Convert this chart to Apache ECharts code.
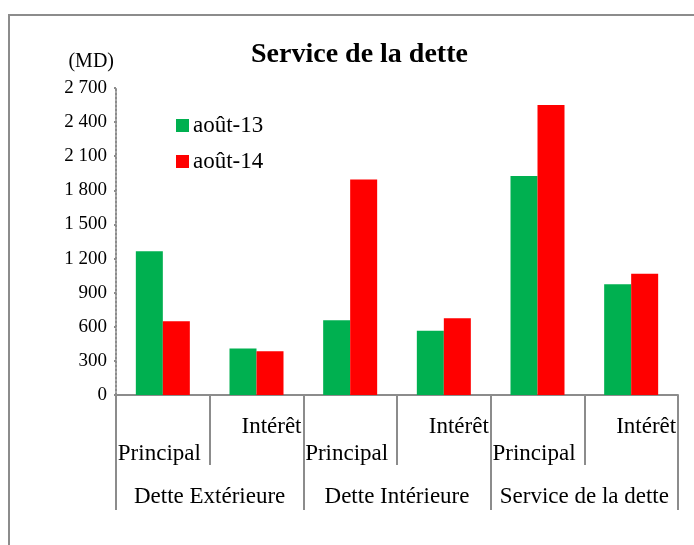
<!DOCTYPE html>
<html>
<head>
<meta charset="utf-8">
<script src="https://cdn.jsdelivr.net/npm/echarts@6/dist/echarts.min.js"></script>
<style>
  html, body { margin: 0; padding: 0; background: #fff; }
  #main { width: 694px; height: 545px; }
</style>
</head>
<body>
<div id="main"></div>
<script>
// service de la dette, en MD
var subLabels = ['Principal', 'Intérêt', 'Principal', 'Intérêt', 'Principal', 'Intérêt'];
var groupLabels = ['Dette Extérieure', 'Dette Intérieure', 'Service de la dette'];
var aout13 = [1265, 408, 658, 564, 1926, 975];
var aout14 = [649, 385, 1896, 675, 2551, 1066];
var yTicks = { min: 0, max: 2700, step: 300 };

var font = 'Liberation Serif';
var grey = '#8c8c8c';

var chart = echarts.init(document.getElementById('main'));

var option = {
  animation: false,
  textStyle: { fontFamily: font, color: '#000' },
  title: {
    text: 'Service de la dette',
    left: 246,
    top: 36,
    textStyle: { fontFamily: font, fontWeight: 'bold', fontSize: 28, color: '#000' }
  },
  legend: {
    orient: 'vertical',
    left: 171,
    top: 108,
    itemWidth: 13,
    itemHeight: 13,
    itemGap: 11,
    icon: 'rect',
    textStyle: { fontFamily: font, fontSize: 23, lineHeight: 25, color: '#000', padding: [0, 0, 0, -1] },
    data: ['août-13', 'août-14']
  },
  grid: { left: 116, right: 16, top: 88, bottom: 150 },
  xAxis: [
    {
      type: 'category',
      data: subLabels,
      axisLine: { lineStyle: { color: grey, width: 2 } },
      axisTick: { show: true, length: 70, lineStyle: { color: grey, width: 2 } },
      axisLabel: {
        interval: 0,
        margin: 0,
        fontFamily: font,
        fontSize: 23,
        color: '#000',
        formatter: function (v, i) {
          return i % 2 === 0 ? '{p|' + v + '}' : '{i|' + v + '}';
        },
        rich: {
          p: { width: 90, align: 'left', lineHeight: 26, padding: [91, 0, 0, 0], fontFamily: font, fontSize: 23 },
          i: { width: 90, align: 'right', lineHeight: 26, padding: [37, 0, 0, 0], fontFamily: font, fontSize: 23 }
        }
      }
    },
    {
      type: 'category',
      position: 'bottom',
      data: groupLabels,
      axisLine: { show: false },
      axisTick: { show: true, length: 115, lineStyle: { color: grey, width: 2 } },
      axisLabel: { interval: 0, margin: 90, fontFamily: font, fontSize: 23, color: '#000' }
    }
  ],
  yAxis: {
    type: 'value',
    min: yTicks.min,
    max: yTicks.max,
    interval: yTicks.step,
    name: '(MD)',
    nameLocation: 'end',
    nameGap: 16,
    nameTextStyle: { fontFamily: font, fontSize: 20, color: '#000', align: 'right', padding: [0, 2, 0, 0] },
    axisLine: { show: true, lineStyle: { color: grey, width: 2, type: 'dotted' } },
    axisTick: { show: true, length: 4, lineStyle: { color: grey, width: 2, type: 'dotted' } },
    splitLine: { show: false },
    axisLabel: {
      margin: 9,
      fontFamily: font,
      fontSize: 19,
      color: '#000',
      formatter: function (v) {
        return String(v).replace(/\B(?=(\d{3})+(?!\d))/g, ' ');
      }
    }
  },
  series: [
    {
      name: 'août-13',
      type: 'bar',
      data: aout13,
      barWidth: 27,
      barGap: '0%',
      itemStyle: { color: '#00b050' }
    },
    {
      name: 'août-14',
      type: 'bar',
      data: aout14,
      barWidth: 27,
      barGap: '0%',
      itemStyle: { color: '#ff0000' }
    }
  ],
  graphic: [
    {
      type: 'rect',
      silent: true,
      shape: { x: 9, y: 15, width: 720, height: 600 },
      style: { fill: 'none', stroke: grey, lineWidth: 2 }
    }
  ]
};

chart.setOption(option);
</script>
</body>
</html>
